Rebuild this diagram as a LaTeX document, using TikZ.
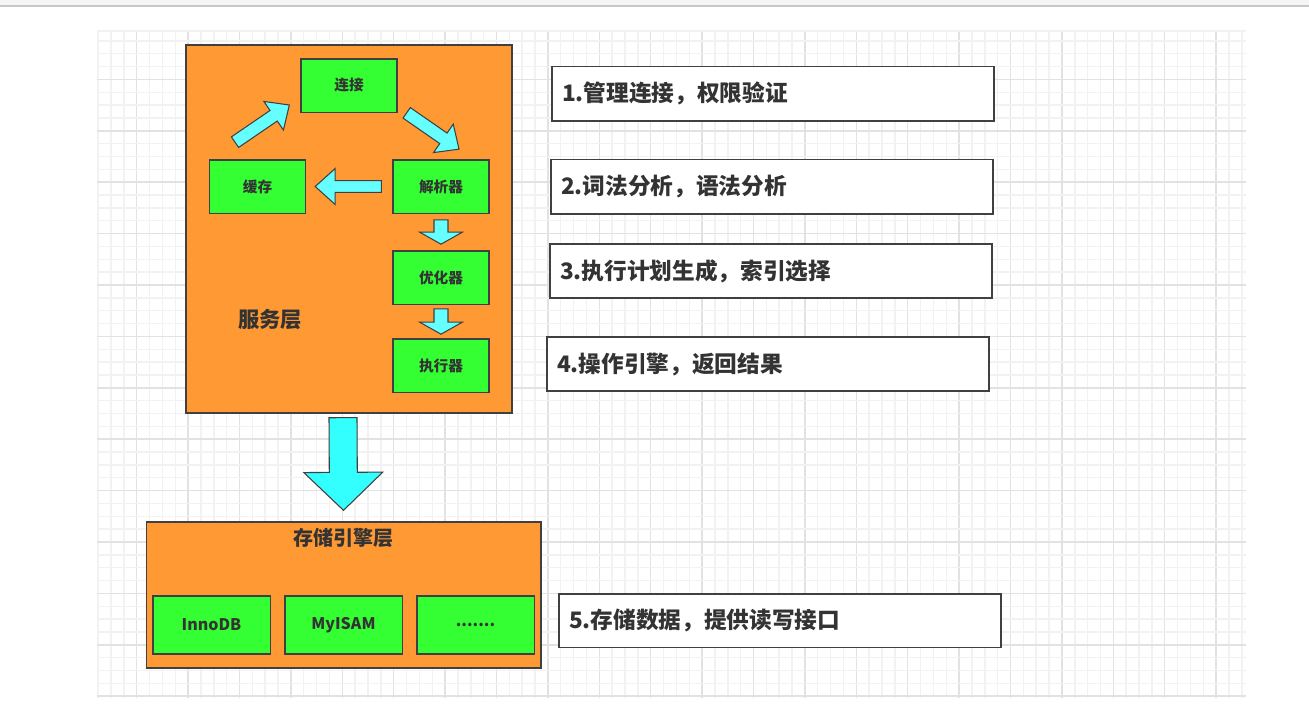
\documentclass[tikz,border=0pt]{standalone}
\usepackage{fontspec}
\setmainfont{Noto Sans CJK SC}
\usepackage{tikz}
\usetikzlibrary{calc}

\definecolor{layerfill}{RGB}{255,153,51}
\definecolor{compfill}{RGB}{51,255,51}
\definecolor{arrowcyan}{RGB}{102,255,255}
\definecolor{bigcyan}{RGB}{51,255,255}
\definecolor{edge}{RGB}{64,64,64}
\definecolor{ink}{RGB}{51,51,51}
\definecolor{gridminor}{RGB}{242,242,242}
\definecolor{gridmajor}{RGB}{226,226,226}

% fat block arrow: tail, tip, shaft half width, head half width, head length
\newcommand\fatarrow[6][arrowcyan]{%
  \path ($(#3)!#6!(#2)$) coordinate (hb);
  \filldraw[fill=#1, draw=edge, line width=0.8pt, line join=miter]
    ($(#2)!#4!90:(#3)$) -- ($(hb)!#4!90:(#3)$) -- ($(hb)!#5!90:(#3)$) -- (#3)
    -- ($(hb)!#5!-90:(#3)$) -- ($(hb)!#4!-90:(#3)$) -- ($(#2)!#4!-90:(#3)$) -- cycle;}

\tikzset{
  layer/.style={draw=edge, line width=1pt, fill=layerfill, rectangle},
  comp/.style={draw=edge, line width=1pt, fill=compfill, rectangle, text=ink,
    minimum width=72pt, minimum height=40pt, font=\bfseries\fontsize{11}{13}\selectfont},
  engine/.style={comp, minimum width=88pt, minimum height=43.5pt, font=\bfseries\fontsize{12}{14}\selectfont},
  note/.style={draw=edge, line width=1pt, fill=white, rectangle, text=ink, align=left,
    minimum width=331.5pt, minimum height=41pt, inner xsep=7.5pt, text width=316.5pt,
    font=\bfseries\fontsize{17}{19}\selectfont}
}

\begin{document}
\begin{tikzpicture}[x=0.75pt, y=-0.75pt]
  \useasboundingbox (0,0) rectangle (1309,708);
  \fill[white] (0,0) rectangle (1309,708);
  \fill[black!4] (0,0) rectangle (1309,6);
  \draw[black!22, line width=1pt] (0,6) -- (1309,6);

  % grid paper
  \foreach \i in {0,...,89} {
    \pgfmathsetmacro\gx{98.15+\i*12.85}
    \pgfmathtruncatemacro\gm{mod(\i+1,4)}
    \ifnum\gm=0 \draw[gridmajor, line width=1.1pt] (\gx,31) -- (\gx,698);
    \else \draw[gridminor, line width=1.1pt] (\gx,31) -- (\gx,698); \fi
  }
  \foreach \j in {0,...,51} {
    \pgfmathsetmacro\gy{40.85+\j*12.85}
    \pgfmathtruncatemacro\gm{mod(\j+1,4)}
    \ifnum\gm=0 \draw[gridmajor, line width=1.1pt] (97,\gy) -- (1246,\gy);
    \else \draw[gridminor, line width=1.1pt] (97,\gy) -- (1246,\gy); \fi
  }
  \draw[gridminor, line width=1.1pt] (97,31) -- (1246,31);

  % server layer
  \node[layer, minimum width=244.5pt, minimum height=276pt] (server) at (349,229) {};
  \node[text=ink, font=\bfseries\fontsize{16}{18}\selectfont] (serverlabel) at (270,320) {服务层};
  \node[comp] (conn) at (349,85.5) {连接};
  \node[comp] (cache) at (257.5,186.5) {缓存};
  \node[comp] (parser) at (441,186.5) {解析器};
  \node[comp] (optim) at (441,277.5) {优化器};
  \node[comp] (exec) at (441,365.5) {执行器};

  % storage layer
  \node[layer, minimum width=296pt, minimum height=109.5pt] (storage) at (343.5,595) {};
  \node[text=ink, font=\bfseries\fontsize{15}{17}\selectfont] (storagelabel) at (343,538) {存储引擎层};
  \node[engine] (innodb) at (211.5,625) {InnoDB};
  \node[engine] (myisam) at (343.5,625) {MyISAM};
  \node[engine] (more) at (475.5,625) {.......};

  % notes
  \node[note] (n1) at (773,93.5) {1.管理连接，权限验证};
  \node[note] (n2) at (772,186.5) {2.词法分析，语法分析};
  \node[note, minimum height=40.5pt] (n3) at (771,271) {3.执行计划生成，索引选择};
  \node[note, minimum height=40.5pt] (n4) at (768,364) {4.操作引擎，返回结果};
  \node[note, minimum height=40pt] (n5) at (780,620.5) {5.存储数据，提供读写接口};

  % block arrows
  \coordinate (a1) at ($(cache.north)+(-22.5,-17)$);
  \coordinate (a2) at ($(conn.west)+(-11,19.5)$);
  \coordinate (b1) at ($(conn.south east)+(9,0)$);
  \coordinate (b2) at ($(parser.north)+(18,-10)$);
  \coordinate (c1) at ($(parser.west)+(-11,0)$);
  \coordinate (c2) at ($(cache.east)+(9,0)$);
  \coordinate (d1) at ($(parser.south)+(0,6)$);
  \coordinate (d2) at ($(optim.north)+(0,-6)$);
  \coordinate (e1) at ($(optim.south)+(0,4)$);
  \coordinate (e2) at ($(exec.north)+(0,-4)$);
  \coordinate (f1) at ($(server.south)+(-6,4)$);
  \coordinate (f2) at ($(storage.north)+(0,-11)$);
  \fatarrow{a1}{a2}{4.8pt}{13pt}{14.25pt}
  \fatarrow{b1}{b2}{4.8pt}{13pt}{14.25pt}
  \fatarrow{c1}{c2}{4.4pt}{13.5pt}{15pt}
  \fatarrow{d1}{d2}{5.25pt}{16pt}{9pt}
  \fatarrow{e1}{e2}{5.25pt}{16pt}{9pt}
  \fatarrow[bigcyan]{f1}{f2}{10.5pt}{29.6pt}{28.5pt}
\end{tikzpicture}
\end{document}
